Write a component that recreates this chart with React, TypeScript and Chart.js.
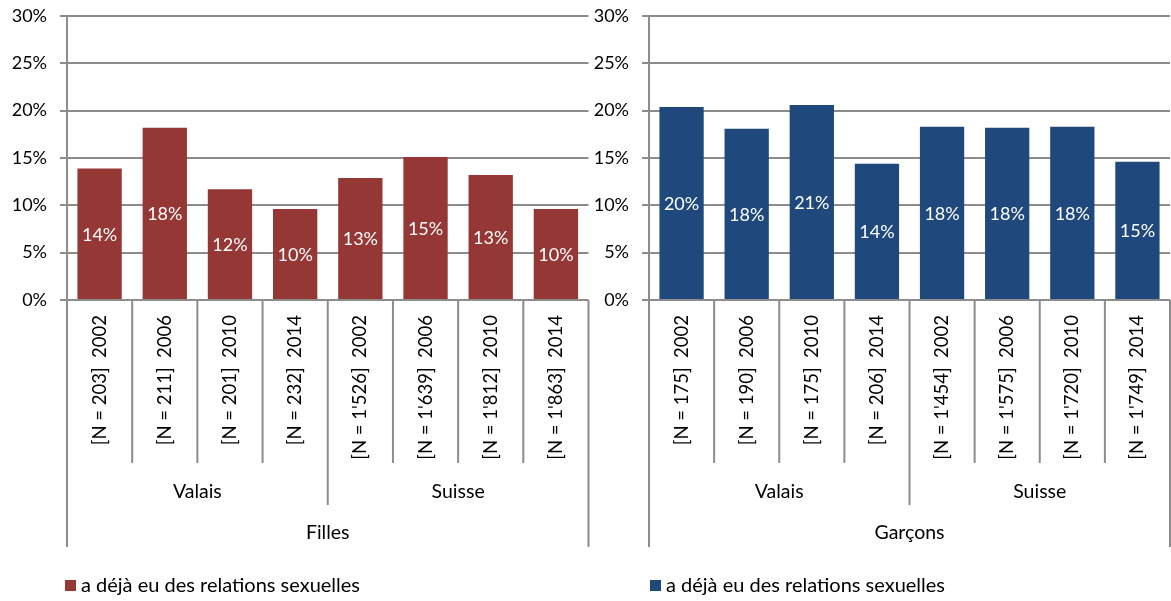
import React, { useEffect, useRef } from "react";
import { Chart, registerables } from "chart.js";

Chart.register(...registerables);

// ---- data ----
const years = ["2002", "2006", "2010", "2014", "2002", "2006", "2010", "2014"];
const regions = ["Valais", "Suisse"];
const fillesN = ["203", "211", "201", "232", "1'526", "1'639", "1'812", "1'863"];
const garconsN = ["175", "190", "175", "206", "1'454", "1'575", "1'720", "1'749"];
const fillesValues = [13.9, 18.2, 11.7, 9.6, 12.9, 15.1, 13.2, 9.6];
const garconsValues = [20.4, 18.1, 20.6, 14.4, 18.3, 18.2, 18.3, 14.6];
const yTicks = [0, 5, 10, 15, 20, 25, 30];
const seriesLabel = "a déjà eu des relations sexuelles";
const fillesTitle = "Filles";
const garconsTitle = "Garçons";

const FONT = "Lato";
const GRID = "#8c8c8c";
const TEXT = "#000000";

type PanelCfg = {
  title: string;
  ns: string[];
  values: number[];
  color: string;
  axisWidth: number;
  rightPad: number;
  legendDx: number;
};

const multiAxisPlugin = {
  id: "multiAxis",
  afterDraw(chart: any) {
    const opts = chart.options.plugins.multiAxis;
    const ctx = chart.ctx;
    const area = chart.chartArea;
    const n = chart.data.labels.length;
    const w = (area.right - area.left) / n;
    const base = area.bottom;
    ctx.save();
    // separator lines
    ctx.strokeStyle = GRID;
    ctx.lineWidth = 2;
    for (let k = 0; k <= n; k++) {
      const x = area.left + k * w;
      let end = base + 163;
      if (k === 0 || k === n) end = base + 247;
      else if (k === n / 2) end = base + 205;
      ctx.beginPath();
      ctx.moveTo(x, base);
      ctx.lineTo(x, end);
      ctx.stroke();
    }
    ctx.fillStyle = TEXT;
    // rotated labels
    ctx.font = `18.5px ${FONT}`;
    chart.data.labels.forEach((lab: string, i: number) => {
      const cx = area.left + (i + 0.5) * w;
      ctx.save();
      ctx.translate(cx, base + 15);
      ctx.rotate(-Math.PI / 2);
      ctx.textAlign = "right";
      ctx.textBaseline = "middle";
      ctx.fillText(lab, 0, 0);
      ctx.restore();
    });
    // group labels
    ctx.font = `19.5px ${FONT}`;
    ctx.textAlign = "center";
    ctx.textBaseline = "middle";
    regions.forEach((r, g) => {
      const cx = area.left + (g * 4 + 2) * w;
      ctx.fillText(r, cx, base + 192);
    });
    ctx.fillText(opts.title, (area.left + area.right) / 2, base + 233);
    // legend
    const ds = chart.data.datasets[0];
    const lx = area.left + opts.legendDx;
    ctx.fillStyle = ds.backgroundColor;
    ctx.fillRect(lx, 580, 11, 11);
    ctx.fillStyle = TEXT;
    ctx.font = `20px ${FONT}`;
    ctx.textAlign = "left";
    ctx.fillText(ds.label, lx + 16, 586);
    ctx.restore();
  },
};

const dataLabelPlugin = {
  id: "dataLabels",
  afterDatasetsDraw(chart: any) {
    const ctx = chart.ctx;
    const meta = chart.getDatasetMeta(0);
    const vals = chart.data.datasets[0].data;
    ctx.save();
    ctx.fillStyle = "#ffffff";
    ctx.font = `18px ${FONT}`;
    ctx.textAlign = "center";
    ctx.textBaseline = "middle";
    meta.data.forEach((bar: any, i: number) => {
      ctx.fillText(Math.round(vals[i]) + "%", bar.x, (bar.y + bar.base) / 2 + 1);
    });
    ctx.restore();
  },
};

function Panel({ cfg, left, width }: { cfg: PanelCfg; left: number; width: number }) {
  const ref = useRef<HTMLCanvasElement>(null);
  useEffect(() => {
    const labels = cfg.ns.map((n, i) => `[N = ${n}]  ${years[i]}`);
    const chart = new Chart(ref.current as HTMLCanvasElement, {
      type: "bar",
      data: {
        labels,
        datasets: [
          {
            label: seriesLabel,
            data: cfg.values,
            backgroundColor: cfg.color,
            borderWidth: 0,
            categoryPercentage: 1,
            barPercentage: 0.68,
          },
        ],
      },
      options: {
        responsive: false,
        animation: false,
        layout: { padding: { top: 16, bottom: 301, left: 0, right: cfg.rightPad } },
        plugins: {
          legend: { display: false },
          tooltip: { enabled: false },
          multiAxis: { title: cfg.title, legendDx: cfg.legendDx },
        } as any,
        scales: {
          x: { display: false },
          y: {
            min: 0,
            max: 30,
            afterBuildTicks: (scale: any) => {
              scale.ticks = yTicks.map((v) => ({ value: v }));
            },
            afterFit: (scale: any) => {
              scale.width = cfg.axisWidth;
              scale.paddingTop = 0;
              scale.paddingBottom = 0;
            },
            ticks: {
              callback: (v: any) => v + "%",
              color: TEXT,
              font: { family: FONT, size: 18 },
              padding: 13,
            },
            grid: { color: GRID, lineWidth: 2, tickLength: 7, drawTicks: true },
            border: { display: true, color: GRID, width: 2 },
          },
        },
      },
      plugins: [dataLabelPlugin, multiAxisPlugin],
    });
    return () => chart.destroy();
  }, []);
  return (
    <canvas
      ref={ref}
      width={width}
      height={601}
      style={{ position: "absolute", left, top: 0, width, height: 601 }}
    />
  );
}

export default function App() {
  const filles: PanelCfg = {
    title: fillesTitle,
    ns: fillesN,
    values: fillesValues,
    color: "#953735",
    axisWidth: 67,
    rightPad: 1.5,
    legendDx: -2,
  };
  const garcons: PanelCfg = {
    title: garconsTitle,
    ns: garconsN,
    values: garconsValues,
    color: "#1F497D",
    axisWidth: 59,
    rightPad: 1,
    legendDx: 1,
  };
  return (
    <div
      style={{
        position: "fixed",
        left: 0,
        top: 0,
        width: 1171,
        height: 601,
        background: "#fff",
        overflow: "hidden",
      }}
    >
      <Panel cfg={filles} left={0} width={590} />
      <Panel cfg={garcons} left={590} width={581} />
    </div>
  );
}
